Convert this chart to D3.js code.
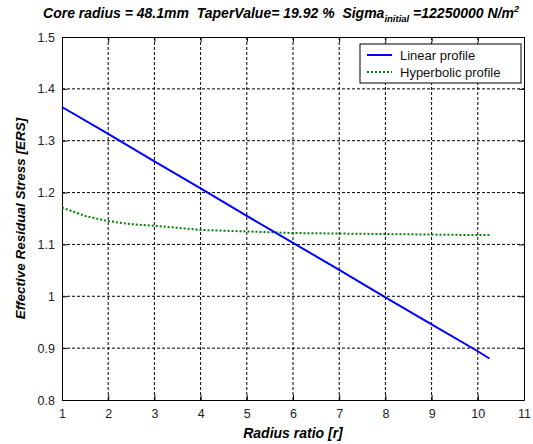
<!DOCTYPE html>
<html>
<head>
<meta charset="utf-8">
<script src="https://cdn.jsdelivr.net/npm/d3@7"></script>
<style>
body { margin: 0; background: #fff; }
text { font-family: "Liberation Sans", Arial, sans-serif; white-space: pre; }
</style>
</head>
<body>
<div id="chart"></div>
<script>
var width = 533
var height = 444
var margin = {left: 62, right: 9, top: 37, bottom: 44}

// values
var radiusRatio = [1, 2, 3, 4, 5, 6, 7, 8, 9, 10, 10.25]
var linearERS = [1.365, 1.313, 1.260, 1.208, 1.155, 1.103, 1.051, 0.998, 0.946, 0.894, 0.880]
var hyperRatio = [1, 1.5, 2, 2.5, 3, 4, 5, 6, 7, 8, 9, 10, 10.25]
var hyperERS = [1.171, 1.155, 1.145, 1.139, 1.136, 1.128, 1.125, 1.122, 1.121, 1.120, 1.119, 1.118, 1.118]
var xTicks = [1, 2, 3, 4, 5, 6, 7, 8, 9, 10, 11]
var yTicks = [0.8, 0.9, 1, 1.1, 1.2, 1.3, 1.4, 1.5]
var seriesNames = ["Linear profile", "Hyperbolic profile"]

var svg = d3.select("#chart").append("svg")
    .attr("width", width)
    .attr("height", height)

var x = d3.scaleLinear().domain([1, 11]).range([margin.left, width - margin.right])
var y = d3.scaleLinear().domain([0.8, 1.5]).range([height - margin.bottom, margin.top])

var x0 = x.range()[0], x1 = x.range()[1]
var y0 = y.range()[0], y1 = y.range()[1]

//grid
svg.append("g").selectAll("line").data(xTicks.slice(1, -1)).enter().append("line")
    .attr("x1", d => x(d)).attr("x2", d => x(d))
    .attr("y1", y1).attr("y2", y0)
    .attr("stroke", "#000").attr("stroke-width", 1)
    .attr("stroke-dasharray", "3,2")
svg.append("g").selectAll("line").data(yTicks.slice(1, -1)).enter().append("line")
    .attr("x1", x0).attr("x2", x1)
    .attr("y1", d => y(d)).attr("y2", d => y(d))
    .attr("stroke", "#000").attr("stroke-width", 1)
    .attr("stroke-dasharray", "3,2")

//axes
var fmt = d => String(d)
var xAxis = svg.append("g").attr("transform", "translate(0," + y0 + ")")
    .call(d3.axisBottom(x).tickValues(xTicks).tickFormat(fmt).tickSizeInner(-5).tickSizeOuter(0).tickPadding(9))
var yAxis = svg.append("g").attr("transform", "translate(" + x0 + ",0)")
    .call(d3.axisLeft(y).tickValues(yTicks).tickFormat(fmt).tickSizeInner(-5).tickSizeOuter(0).tickPadding(7))
svg.append("g").attr("transform", "translate(0," + y1 + ")")
    .call(d3.axisTop(x).tickValues(xTicks).tickFormat("").tickSizeInner(-5).tickSizeOuter(0))
svg.append("g").attr("transform", "translate(" + x1 + ",0)")
    .call(d3.axisRight(y).tickValues(yTicks).tickFormat("").tickSizeInner(-5).tickSizeOuter(0))

svg.selectAll(".domain").attr("stroke", "#000")
svg.selectAll(".tick line").attr("stroke", "#000")
svg.selectAll(".tick text")
    .attr("font-family", "Liberation Sans, Arial, sans-serif")
    .attr("font-size", 12.5)
    .attr("fill", "#222")

//lines
var line = d3.line().x(d => x(d[0])).y(d => y(d[1]))
svg.append("path")
    .datum(d3.zip(hyperRatio, hyperERS))
    .attr("d", line)
    .attr("fill", "none")
    .attr("stroke", "#008000")
    .attr("stroke-width", 2)
    .attr("stroke-dasharray", "2,2")
svg.append("path")
    .datum(d3.zip(radiusRatio, linearERS))
    .attr("d", line)
    .attr("fill", "none")
    .attr("stroke", "#0000ff")
    .attr("stroke-width", 2)

//legend
var lg = svg.append("g").attr("transform", "translate(360,44)")
lg.append("rect").attr("width", 161).attr("height", 39)
    .attr("fill", "#fff").attr("stroke", "#000")
var legendStyles = [{c: "#0000ff", dash: null}, {c: "#008000", dash: "2,2"}]
seriesNames.forEach(function(name, i) {
    lg.append("line")
        .attr("x1", 7).attr("x2", 32)
        .attr("y1", 11 + i * 17).attr("y2", 11 + i * 17)
        .attr("stroke", legendStyles[i].c).attr("stroke-width", 2)
        .attr("stroke-dasharray", legendStyles[i].dash)
    lg.append("text")
        .attr("x", 40).attr("y", 15.5 + i * 17)
        .attr("font-size", 13).attr("fill", "#111")
        .text(name)
})

//labels
var title = svg.append("text")
    .attr("x", 281).attr("y", 18)
    .attr("text-anchor", "middle")
    .attr("font-size", 14).attr("font-weight", "bold").attr("font-style", "italic")
title.append("tspan").text("Core radius = 48.1mm  TaperValue= 19.92 %  Sigma")
title.append("tspan").attr("font-size", 9.5).attr("dy", 4).text("initial")
title.append("tspan").attr("dy", -4).text("\u00a0=12250000 N/m")
title.append("tspan").attr("font-size", 9).attr("dy", -6).text("2")

svg.append("text")
    .attr("x", (x0 + x1) / 2).attr("y", 438)
    .attr("text-anchor", "middle")
    .attr("font-size", 14).attr("font-weight", "bold").attr("font-style", "italic")
    .text("Radius ratio [r]")

svg.append("text")
    .attr("transform", "translate(25," + (y0 + y1) / 2 + ") rotate(-90)")
    .attr("text-anchor", "middle")
    .attr("font-size", 13.5).attr("font-weight", "bold").attr("font-style", "italic")
    .text("Effective Residual Stress [ERS]")
</script>
</body>
</html>
